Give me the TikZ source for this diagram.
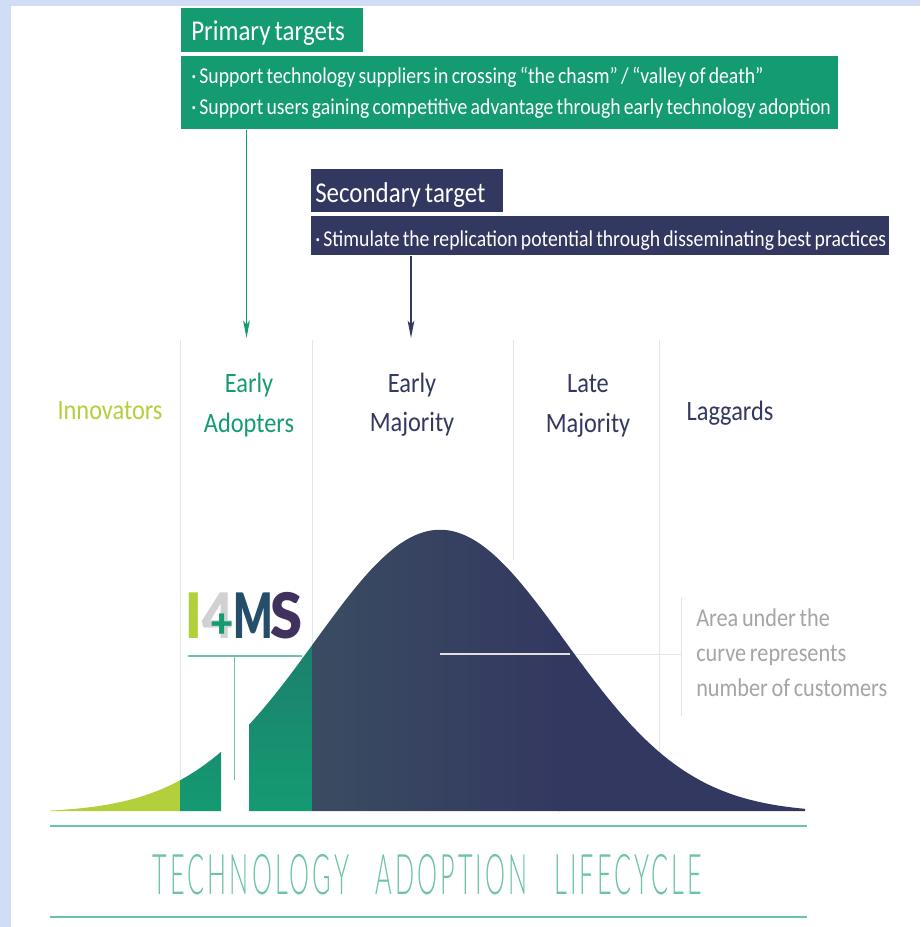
\documentclass[tikz,border=0pt]{standalone}
\usepackage{fontspec}
\usetikzlibrary{arrows.meta}
\setmainfont[FakeStretch=0.87,WordSpace=0.72]{Carlito}
\newfontfamily\titlefont[LetterSpace=12]{Lato Light}
\newfontfamily\logofont{Lato Black}
\definecolor{grn}{HTML}{149B72}
\definecolor{navy}{HTML}{333860}
\definecolor{navyl}{HTML}{3A4C61}
\definecolor{lime}{HTML}{B2CF3C}
\definecolor{rule}{HTML}{E4E6E6}
\definecolor{mint}{HTML}{6CC4A4}
\definecolor{bluebg}{HTML}{D0DDF4}
\definecolor{graytxt}{HTML}{A3A5A6}
\tikzset{
  box/.style={anchor=north west,fill=#1,text=white,inner ysep=0pt,inner xsep=7.5pt,align=flush left},
  head/.style={font=\fontsize{21.5}{24}\selectfont},
  bodytxt/.style={font=\fontsize{17}{23.2}\selectfont},
  lab/.style={font=\fontsize{21}{29.5}\selectfont,align=center,inner sep=0pt},
  note/.style={font=\fontsize{19.2}{26.6}\selectfont,align=left,inner sep=0pt,anchor=north west,text=graytxt},
  guide/.style={draw=rule,line width=0.7pt},
  tip/.style={-{Stealth[length=13pt,width=5pt,inset=3pt]},line width=0.9pt},
  logo/.style={font=\logofont\fontsize{47}{47}\selectfont,inner sep=0pt}
}
\def\curve{plot[domain=50:805,samples=160,smooth] (\x,{811-283*exp(-0.5*((\x-440)/125)^2)+1.8})}
\begin{document}
\begin{tikzpicture}[x=0.75pt,y=-0.75pt]
\useasboundingbox (0,0) rectangle (920,927);
\fill[bluebg] (0,0) rectangle (920,927);
\fill[white] (11,6) rectangle (920,927);

% guides
\coordinate (g1t) at (180,340); \coordinate (g1b) at (180,778);
\coordinate (g2t) at (312,340); \coordinate (g2b) at (312,652);
\coordinate (g3t) at (513,340); \coordinate (g3b) at (513,560);
\coordinate (g4t) at (659,340); \coordinate (g4b) at (659,752);
\coordinate (g5t) at (681,597); \coordinate (g5b) at (681,716);
\coordinate (hm) at (570,654);  \coordinate (hs) at (440,654); \coordinate (he) at (681,654);
\draw[guide] (g1t)--(g1b);
\draw[guide] (g2t)--(g2b);
\draw[guide] (g3t)--(g3b);
\draw[guide] (g4t)--(g4b);
\draw[guide] (g5t)--(g5b);
\draw[guide] (hm)--(he);

% curve
\begin{scope}
\clip \curve -- (805,811) -- (50,811) -- cycle;
\fill[lime] (50,760) rectangle (180,812);
\shade[top color=grn!85!navy,bottom color=grn] (180,740) rectangle (221,812);
\shade[top color=grn!72!navy,bottom color=grn] (249,645) rectangle (312,812);
\shade[left color=navyl,right color=navy] (312,525) rectangle (560,812);
\fill[navy] (559,525) rectangle (806,812);
\end{scope}
\draw[white!88!black,line width=0.9pt] (hs)--(hm);

% boxes
\node[box=grn,head,minimum height=44*0.75pt,text width=162*0.75pt,text height=18pt,text depth=3pt] (p1) at (181,8) {Primary targets};
\node[box=grn,bodytxt,minimum height=73*0.75pt,text width=637*0.75pt] (p2) at (181,56) {\mbox{· Support technology suppliers in crossing “the chasm” / “valley of death”}\\\mbox{· Support users gaining competitive advantage through early technology adoption}};
\node[box=navy,head,inner xsep=3pt,minimum height=43*0.75pt,text width=184*0.75pt,text height=21pt,text depth=3pt] (s1) at (311,169) {Secondary target};
\node[box=navy,bodytxt,inner xsep=3pt,minimum height=39*0.75pt,text width=570*0.75pt,text height=18pt,text depth=2pt] (s2) at (311,216) {\mbox{· Stimulate the replication potential through disseminating best practices}};

% arrows
\coordinate (a1) at (246.5,338);
\coordinate (a2) at (411,338);
\draw[tip,grn] (p2.south -| a1) -- (a1);
\draw[tip,navy] (s2.south -| a2) -- (a2);

% labels
\node[lab,text=lime] (l0) at (110,411) {Innovators};
\node[lab,text=grn] (l1) at (249,405) {Early\\Adopters};
\node[lab,text=navy] (l2) at (412,405) {Early\\Majority};
\node[lab,text=navy] (l3) at (588,406) {Late\\Majority};
\node[lab,text=navy] (l4) at (730,413) {Laggards};
\node[note] (n) at (696,608) {Area under the\\curve represents\\number of customers};

% logo
\node[logo,text=lime] (li) at (193.5,616) {\scalebox{0.85}[1]{I}};
\node[logo,text=black!18] (l4g) at (218,616) {\scalebox{0.85}[1]{4}};
\node[logo,text=grn,font=\logofont\fontsize{30}{30}\selectfont] (lp) at (222,626) {+};
\node[logo,text=navy!70!teal] (lm) at (253,616) {\scalebox{0.66}[1]{M}};
\node[logo,text=navy!90!purple] (ls) at (286,616) {\scalebox{0.92}[1]{S}};
\coordinate (lg1) at (187.5,656); \coordinate (lg2) at (302,656);
\coordinate (lg3) at (234.5,656); \coordinate (lg4) at (234.5,780);
\draw[mint,line width=1.3pt] (lg1)--(lg2);
\draw[mint,line width=0.8pt] (lg3)--(lg4);

% title
\coordinate (t1) at (50,825.5); \coordinate (t2) at (807,825.5);
\coordinate (t3) at (50,917); \coordinate (t4) at (807,917);
\draw[mint,line width=1.5pt] (t1)--(t2);
\draw[mint,line width=1.5pt] (t3)--(t4);
\node[inner sep=0pt,text=mint,font=\titlefont\fontsize{42}{42}\selectfont] (title) at (427.5,875) {\scalebox{0.451}[1]{TECHNOLOGY\hspace{28pt} ADOPTION\hspace{28pt} LIFECYCLE}};
\end{tikzpicture}
\end{document}
